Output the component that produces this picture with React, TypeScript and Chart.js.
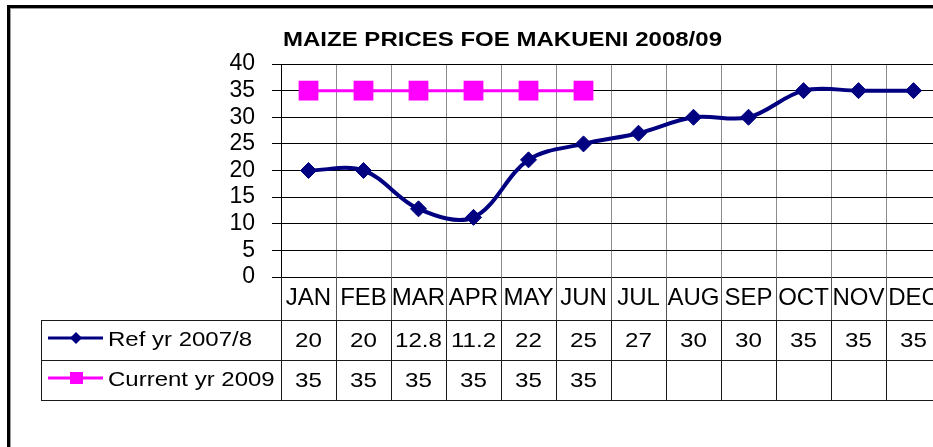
import React, { useEffect, useRef } from 'react';
import { Chart, registerables } from 'chart.js';

Chart.register(...registerables);

const TITLE = 'MAIZE PRICES FOE MAKUENI 2008/09';
const months = ['JAN', 'FEB', 'MAR', 'APR', 'MAY', 'JUN', 'JUL', 'AUG', 'SEP', 'OCT', 'NOV', 'DEC'];
const refYr: (number | null)[] = [20, 20, 12.8, 11.2, 22, 25, 27, 30, 30, 35, 35, 35];
const currentYr: (number | null)[] = [35, 35, 35, 35, 35, 35, null, null, null, null, null, null];
const seriesNames = ['Ref yr 2007/8', 'Current yr 2009'];

const NAVY = '#000080';
const MAGENTA = '#FF00FF';
const FONT = '"Liberation Sans", Arial, sans-serif';

function drawScaledText(
  ctx: CanvasRenderingContext2D,
  text: string,
  x: number,
  y: number,
  font: string,
  align: 'left' | 'center' | 'right',
  sx: number
) {
  ctx.save();
  ctx.font = font;
  ctx.textBaseline = 'alphabetic';
  ctx.textAlign = 'left';
  ctx.fillStyle = '#000';
  const w = ctx.measureText(text).width * sx;
  const left = align === 'center' ? x - w / 2 : align === 'right' ? x - w : x;
  ctx.translate(left, y);
  ctx.scale(sx, 1);
  ctx.fillText(text, 0, 0);
  ctx.restore();
}

function textScaleFor(ctx: CanvasRenderingContext2D, text: string, font: string, target: number) {
  ctx.save();
  ctx.font = font;
  const w = ctx.measureText(text).width;
  ctx.restore();
  return w > 0 ? target / w : 1;
}

const framePlugin = {
  id: 'frame',
  beforeDraw(chart: any) {
    const ctx: CanvasRenderingContext2D = chart.ctx;
    ctx.save();
    ctx.fillStyle = '#fff';
    ctx.fillRect(0, 0, chart.width, chart.height);
    ctx.fillStyle = '#000';
    ctx.fillRect(7, 5, chart.width, 3);
    ctx.fillRect(7, 5, 3, chart.height);
    ctx.fillStyle = '#9a9a9a';
    ctx.fillRect(10, 8, chart.width, 1);
    ctx.fillRect(10, 8, 1, chart.height);
    ctx.restore();
  },
};

const tablePlugin = {
  id: 'dataTable',
  afterDraw(chart: any) {
    const ctx: CanvasRenderingContext2D = chart.ctx;
    const xs = chart.scales.x;
    const area = chart.chartArea;
    const step = xs.getPixelForValue(1) - xs.getPixelForValue(0);
    const bounds: number[] = months.map((_, i) => xs.getPixelForValue(i) - step / 2);
    bounds.push(bounds[bounds.length - 1] + step);
    const top = area.bottom;
    const hdrBot = top + 43;
    const r1 = hdrBot + 40;
    const r2 = r1 + 40;
    const tableLeft = 41;
    const px = (v: number) => Math.round(v) + 0.5;

    ctx.save();
    ctx.lineWidth = 1;
    ctx.strokeStyle = '#555';
    bounds.forEach((b, k) => {
      if (k === 0) return;
      ctx.beginPath();
      ctx.moveTo(px(b), top);
      ctx.lineTo(px(b), hdrBot);
      ctx.stroke();
    });
    ctx.strokeStyle = '#1a1a1a';
    ctx.beginPath();
    ctx.moveTo(px(bounds[0]), top);
    ctx.lineTo(px(bounds[0]), r2);
    ctx.stroke();
    bounds.forEach((b, k) => {
      if (k === 0) return;
      ctx.beginPath();
      ctx.moveTo(px(b), hdrBot);
      ctx.lineTo(px(b), r2);
      ctx.stroke();
    });
    [hdrBot, r1, r2].forEach((y) => {
      ctx.beginPath();
      ctx.moveTo(tableLeft, px(y));
      ctx.lineTo(bounds[bounds.length - 1], px(y));
      ctx.stroke();
    });
    ctx.beginPath();
    ctx.moveTo(px(tableLeft), hdrBot);
    ctx.lineTo(px(tableLeft), r2);
    ctx.stroke();

    const cy1 = hdrBot + 18;
    const cy2 = r1 + 18;
    ctx.lineWidth = 3;
    ctx.strokeStyle = NAVY;
    ctx.beginPath();
    ctx.moveTo(48, cy1);
    ctx.lineTo(103, cy1);
    ctx.stroke();
    ctx.fillStyle = NAVY;
    ctx.beginPath();
    ctx.moveTo(76 - 6, cy1);
    ctx.lineTo(76, cy1 - 6);
    ctx.lineTo(76 + 6, cy1);
    ctx.lineTo(76, cy1 + 6);
    ctx.closePath();
    ctx.fill();

    ctx.strokeStyle = MAGENTA;
    ctx.beginPath();
    ctx.moveTo(48, cy2);
    ctx.lineTo(103, cy2);
    ctx.stroke();
    ctx.fillStyle = MAGENTA;
    ctx.fillRect(70, cy2 - 6, 13, 12);
    ctx.restore();

    const legendFont = `21px ${FONT}`;
    const sLeg = textScaleFor(ctx, seriesNames[0], legendFont, 144);
    drawScaledText(ctx, seriesNames[0], 108, hdrBot + 26, legendFont, 'left', sLeg);
    drawScaledText(ctx, seriesNames[1], 108, r1 + 26, legendFont, 'left', sLeg);

    const valFont = `21px ${FONT}`;
    const rows = [refYr, currentYr];
    rows.forEach((row, ri) => {
      const base = (ri === 0 ? hdrBot : r1) + 27;
      row.forEach((v, i) => {
        if (v === null || v === undefined) return;
        drawScaledText(ctx, String(v), xs.getPixelForValue(i), base, valFont, 'center', 1.15);
      });
    });

    const titleFont = `bold 20px ${FONT}`;
    const sT = textScaleFor(ctx, TITLE, titleFont, 439);
    drawScaledText(ctx, TITLE, 502.5, 46, titleFont, 'center', sT);
  },
};

export default function App() {
  const canvasRef = useRef<HTMLCanvasElement | null>(null);

  useEffect(() => {
    const canvas = canvasRef.current;
    if (!canvas) return;
    const chart = new Chart(canvas, {
      type: 'line',
      data: {
        labels: months,
        datasets: [
          {
            label: seriesNames[0],
            data: refYr,
            borderColor: NAVY,
            backgroundColor: NAVY,
            borderWidth: 4,
            tension: 0.35,
            pointStyle: 'rectRot',
            pointRadius: 8,
            pointBorderWidth: 1,
            pointBackgroundColor: NAVY,
            pointBorderColor: NAVY,
          },
          {
            label: seriesNames[1],
            data: currentYr,
            borderColor: MAGENTA,
            backgroundColor: MAGENTA,
            borderWidth: 3,
            tension: 0,
            pointStyle: 'rect',
            pointRadius: 14,
            pointBorderWidth: 0,
            pointBackgroundColor: MAGENTA,
            pointBorderColor: MAGENTA,
            spanGaps: false,
          },
        ],
      },
      options: {
        responsive: false,
        animation: false,
        devicePixelRatio: 1,
        layout: { padding: { left: 0, top: 64, right: 19, bottom: 0 } },
        plugins: {
          legend: { display: false },
          tooltip: { enabled: false },
          title: { display: false },
        },
        scales: {
          x: {
            offset: true,
            grid: { offset: true, color: '#8c8c8c', drawTicks: false, lineWidth: 1 },
            border: { display: true, color: '#000' },
            ticks: {
              font: { size: 24, family: FONT },
              color: '#000',
              padding: 7,
              maxRotation: 0,
              autoSkip: false,
            },
            afterFit: (s: any) => {
              s.height = 170;
            },
          },
          y: {
            min: 0,
            max: 40,
            ticks: {
              stepSize: 5,
              autoSkip: false,
              font: { size: 23, family: FONT },
              color: '#000',
              padding: 17,
            },
            grid: { color: '#000', tickLength: 9 },
            border: { color: '#000' },
            afterFit: (s: any) => {
              s.width = 281;
            },
          },
        },
      },
      plugins: [framePlugin, tablePlugin],
    } as any);
    return () => chart.destroy();
  }, []);

  return (
    <div
      style={{
        position: 'fixed',
        left: 0,
        top: 0,
        width: 933,
        height: 447,
        overflow: 'hidden',
        background: '#fff',
      }}
    >
      <canvas ref={canvasRef} width={960} height={447} style={{ display: 'block' }} />
    </div>
  );
}
